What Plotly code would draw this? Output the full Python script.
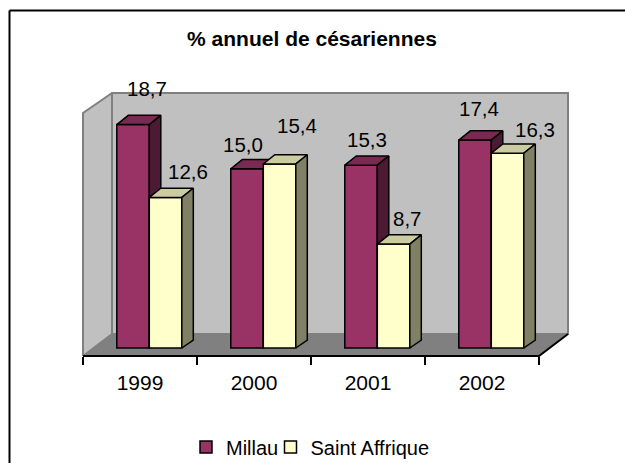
import plotly.graph_objects as go

# Data
categories = ["1999", "2000", "2001", "2002"]
millau = [18.7, 15.0, 15.3, 17.4]
saint_affrique = [12.6, 15.4, 8.7, 16.3]
series_names = ["Millau", "Saint Affrique"]
title = "% annuel de césariennes"

# Figure scale
W, H = 625, 463
CAT_PX = 114.0
UNIT_PX = 11.95
X0_PX, Y0_PX = 83.0, 348.0
FLOOR_FRONT_PX = 356.0


def ux(px):
    return px / CAT_PX


def uy(px):
    return px / UNIT_PX


x_range = [-X0_PX / CAT_PX, (W - X0_PX) / CAT_PX]
y_range = [-(H - Y0_PX) / UNIT_PX, Y0_PX / UNIT_PX]

n = len(categories)
bar_w = ux(32.5)
bar_shift = ux(9.3)
bdx, bdy = ux(11.5), uy(9.2)
wall_dx = ux(29)
floor_front = -uy(FLOOR_FRONT_PX - Y0_PX)
wall_base = floor_front + uy(22)
wall_top = uy(Y0_PX - 93)
wall_top_front = uy(Y0_PX - 113)

m_x = [i + 0.5 + bar_shift - bar_w / 2 for i in range(n)]
s_x = [i + 0.5 + bar_shift + bar_w / 2 for i in range(n)]

# label offsets from bar top centre, in pixels
m_off = [(14, 36), (-4, 24), (6, 26), (4, 32)]
s_off = [(22.5, 26), (17.5, 38), (13.5, 26), (27.5, 24)]


def top_faces(xs, vals):
    X, Y = [], []
    for c, v in zip(xs, vals):
        l, r = c - bar_w / 2, c + bar_w / 2
        X += [l, l + bdx, r + bdx, r, l, None]
        Y += [v, v + bdy, v + bdy, v, v, None]
    return X, Y


def side_faces(xs, vals):
    X, Y = [], []
    for c, v in zip(xs, vals):
        r = c + bar_w / 2
        X += [r, r + bdx, r + bdx, r, r, None]
        Y += [0, bdy * 0.85, v + bdy, v, 0, None]
    return X, Y


def face(X, Y, fill, line="black", lw=1.5, yaxis="y"):
    return go.Scatter(x=X, y=Y, mode="lines", fill="toself", fillcolor=fill,
                      line=dict(color=line, width=lw), hoverinfo="skip",
                      showlegend=False, yaxis=yaxis)


fig = go.Figure()

# Walls and floor
fig.add_trace(face([wall_dx, n + wall_dx, n + wall_dx, wall_dx, wall_dx],
                   [wall_base, wall_base, wall_top, wall_top, wall_base],
                   "#C0C0C0", "#808080", 2))
fig.add_trace(face([0, wall_dx, wall_dx, 0, 0],
                   [floor_front, wall_base, wall_top, wall_top_front, floor_front],
                   "#C0C0C0", "#808080", 2))
fig.add_trace(face([0, n, n + wall_dx, wall_dx, 0],
                   [floor_front, floor_front, wall_base, wall_base, floor_front],
                   "#808080", "#808080", 1))
# Axis line and right floor edge
fig.add_trace(go.Scatter(x=[0, n, n + wall_dx], y=[floor_front, floor_front, wall_base],
                         mode="lines", line=dict(color="black", width=2),
                         hoverinfo="skip", showlegend=False))

# Millau
fig.add_trace(go.Bar(x=m_x, y=millau, width=bar_w, name=series_names[0], yaxis="y2",
                     legend="legend",
                     marker=dict(color="#993366", line=dict(color="black", width=1.5))))
fig.add_trace(face(*top_faces(m_x, millau), "#7A2952", yaxis="y2"))
fig.add_trace(face(*side_faces(m_x, millau), "#4D1A33", yaxis="y2"))

# Saint Affrique
fig.add_trace(go.Bar(x=s_x, y=saint_affrique, width=bar_w, name=series_names[1], yaxis="y3",
                     legend="legend2",
                     marker=dict(color="#FFFFCC", line=dict(color="black", width=1.5))))
fig.add_trace(face(*top_faces(s_x, saint_affrique), "#CCCCA3", yaxis="y3"))
fig.add_trace(face(*side_faces(s_x, saint_affrique), "#808066", yaxis="y3"))

annotations = []
for xs, vals, offs in ((m_x, millau, m_off), (s_x, saint_affrique, s_off)):
    for c, v, (dx, dy) in zip(xs, vals, offs):
        annotations.append(dict(x=c, y=v, xref="x", yref="y", text=f"{v:.1f}".replace(".", ","),
                                showarrow=False, xshift=dx, yshift=dy, xanchor="center",
                                yanchor="middle", font=dict(size=20.5)))

hidden = dict(visible=False, range=y_range, fixedrange=True)
legend_common = dict(orientation="h", xanchor="left", y=1 - 447 / H, yanchor="middle",
                     font=dict(size=20), bgcolor="rgba(0,0,0,0)")
fig.update_layout(
    width=W, height=H,
    margin=dict(l=0, r=0, t=0, b=0, autoexpand=False),
    paper_bgcolor="white", plot_bgcolor="rgba(0,0,0,0)",
    font=dict(family="Liberation Sans, Arial, sans-serif", color="black", size=20),
    title=dict(text=f"<b>{title}</b>", x=312 / W, xanchor="center", y=1 - 39 / H,
               yanchor="middle", font=dict(size=21)),
    xaxis=dict(range=x_range, domain=[0, 1], anchor="free", position=(H - FLOOR_FRONT_PX) / H,
               showgrid=False, zeroline=False, showline=False,
               tickmode="array", tickvals=[i + 0.5 for i in range(n)], ticktext=categories,
               ticks="outside", ticklen=8, tickcolor="rgba(0,0,0,0)", tickfont=dict(size=21),
               minor=dict(ticks="outside", ticklen=8, tickwidth=1.5, tickcolor="black",
                          tickmode="array", tickvals=list(range(n + 1)), showgrid=False)),
    yaxis=dict(**hidden),
    yaxis2=dict(overlaying="y", **hidden),
    yaxis3=dict(overlaying="y", **hidden),
    showlegend=True,
    legend=dict(x=186 / W, **legend_common),
    legend2=dict(x=270.5 / W, **legend_common),
    annotations=annotations,
    shapes=[
        dict(type="line", xref="paper", yref="paper", x0=9.5 / W, x1=1, y0=1 - 10.5 / H, y1=1 - 10.5 / H,
             line=dict(color="black", width=2)),
        dict(type="line", xref="paper", yref="paper", x0=9.5 / W, x1=9.5 / W, y0=0, y1=1 - 10.5 / H,
             line=dict(color="black", width=2)),
    ],
)

fig.write_html("out.html", config=dict(displayModeBar=False),
               post_script="document.body.style.margin='0';document.body.style.overflow='hidden';")
